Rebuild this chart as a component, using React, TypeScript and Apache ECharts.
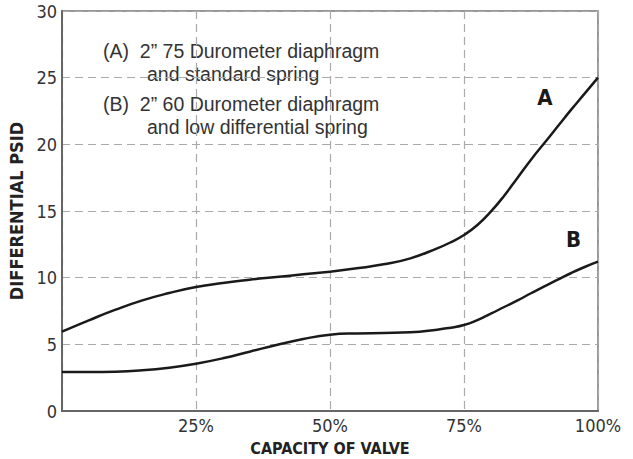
import React, { useEffect, useRef } from "react";
import * as echarts from "echarts";

const capacity = [0, 5, 10, 15, 20, 25, 30, 35, 40, 45, 50, 55, 60, 65, 70, 72.5, 75, 77.5, 80, 82.5, 85, 87.5, 90, 92.5, 95, 97.5, 100];
const curveA = [5.95, 6.8, 7.6, 8.3, 8.85, 9.3, 9.6, 9.85, 10.05, 10.25, 10.45, 10.7, 11.0, 11.45, 12.2, 12.65, 13.2, 13.95, 14.95, 16.15, 17.5, 18.85, 20.1, 21.35, 22.6, 23.8, 25];
const curveB = [2.93, 2.93, 2.95, 3.05, 3.25, 3.55, 3.95, 4.45, 4.95, 5.4, 5.72, 5.82, 5.85, 5.9, 6.1, 6.25, 6.45, 6.82, 7.3, 7.8, 8.3, 8.83, 9.35, 9.85, 10.35, 10.8, 11.2];
const legendA = ["(A)  2\u201D 75 Durometer diaphragm", "and standard spring"];
const legendB = ["(B)  2\u201D 60 Durometer diaphragm", "and low differential spring"];
const xTitle = "CAPACITY OF VALVE";
const yTitle = "DIFFERENTIAL PSID";

const narrow = "'DejaVu Sans Condensed', 'Roboto', sans-serif";
const light = "'Liberation Sans', 'Roboto', sans-serif";

export default function App() {
  const ref = useRef<HTMLDivElement>(null);
  useEffect(() => {
    if (!ref.current) return;
    const chart = echarts.init(ref.current, undefined, { renderer: "svg" });
    const pair = (ys: number[]) => capacity.map((x, i) => [x, ys[i]]);
    const legendText = (lines: string[], x: number, y: number, gap: number) => [
      { type: "text", x, y, style: { text: lines[0], font: `19.5px ${light}`, fill: "#333", verticalAlign: "middle" } },
      { type: "text", x: x + 44, y: y + gap, style: { text: lines[1], font: `19.5px ${light}`, fill: "#333", verticalAlign: "middle" } },
    ];
    chart.setOption({
      animation: false,
      backgroundColor: "#ffffff",
      grid: {
        left: 62,
        right: 35,
        top: 11,
        bottom: 48,
        outerBoundsMode: "none",
        containLabel: false,
        show: true,
        borderColor: "#777",
        borderWidth: 1.5,
        backgroundColor: "transparent",
      },
      xAxis: {
        type: "value",
        min: 0,
        max: 100,
        interval: 25,
        name: xTitle,
        nameLocation: "middle",
        nameGap: 29,
        nameTextStyle: { fontFamily: narrow, fontWeight: "bold", fontSize: 16, color: "#222" },
        axisLine: { show: true, lineStyle: { color: "#666", width: 2 } },
        axisTick: { show: false },
        axisLabel: {
          formatter: (v: number) => (v === 0 ? "" : `${v}%`),
          fontFamily: narrow,
          fontSize: 18,
          color: "#333",
          margin: 5,
          showMaxLabel: true,
        },
        splitLine: { show: true, lineStyle: { color: "#aaa", width: 1.2, type: [8, 5] } },
      },
      yAxis: {
        type: "value",
        min: 0,
        max: 30,
        interval: 5,
        name: yTitle,
        nameLocation: "middle",
        nameRotate: 90,
        nameGap: 24,
        nameTextStyle: { fontFamily: narrow, fontWeight: "bold", fontSize: 18, color: "#222" },
        axisLine: { show: true, lineStyle: { color: "#666", width: 2 } },
        axisTick: { show: false },
        axisLabel: { fontFamily: narrow, fontSize: 18, color: "#333", margin: 5 },
        splitLine: { show: true, lineStyle: { color: "#aaa", width: 1.2, type: [8, 5] } },
      },
      series: [
        {
          type: "line",
          name: "A",
          data: pair(curveA),
          smooth: 0.5,
          showSymbol: false,
          lineStyle: { color: "#1a1a1a", width: 2.5 },
        },
        {
          type: "line",
          name: "B",
          data: pair(curveB),
          smooth: 0.5,
          showSymbol: false,
          lineStyle: { color: "#1a1a1a", width: 2.5 },
        },
      ],
      graphic: [
        ...legendText(legendA, 103, 51, 22.5),
        ...legendText(legendB, 103, 104, 22.5),
        { type: "text", x: 545, y: 97, style: { text: "A", font: `bold 22px ${narrow}`, fill: "#1a1a1a", align: "center", verticalAlign: "middle" } },
        { type: "text", x: 573.5, y: 239.5, style: { text: "B", font: `bold 22px ${narrow}`, fill: "#1a1a1a", align: "center", verticalAlign: "middle" } },
      ],
    });
    return () => chart.dispose();
  }, []);
  return <div ref={ref} style={{ width: 633, height: 459, position: "fixed", left: 0, top: 0 }} />;
}
